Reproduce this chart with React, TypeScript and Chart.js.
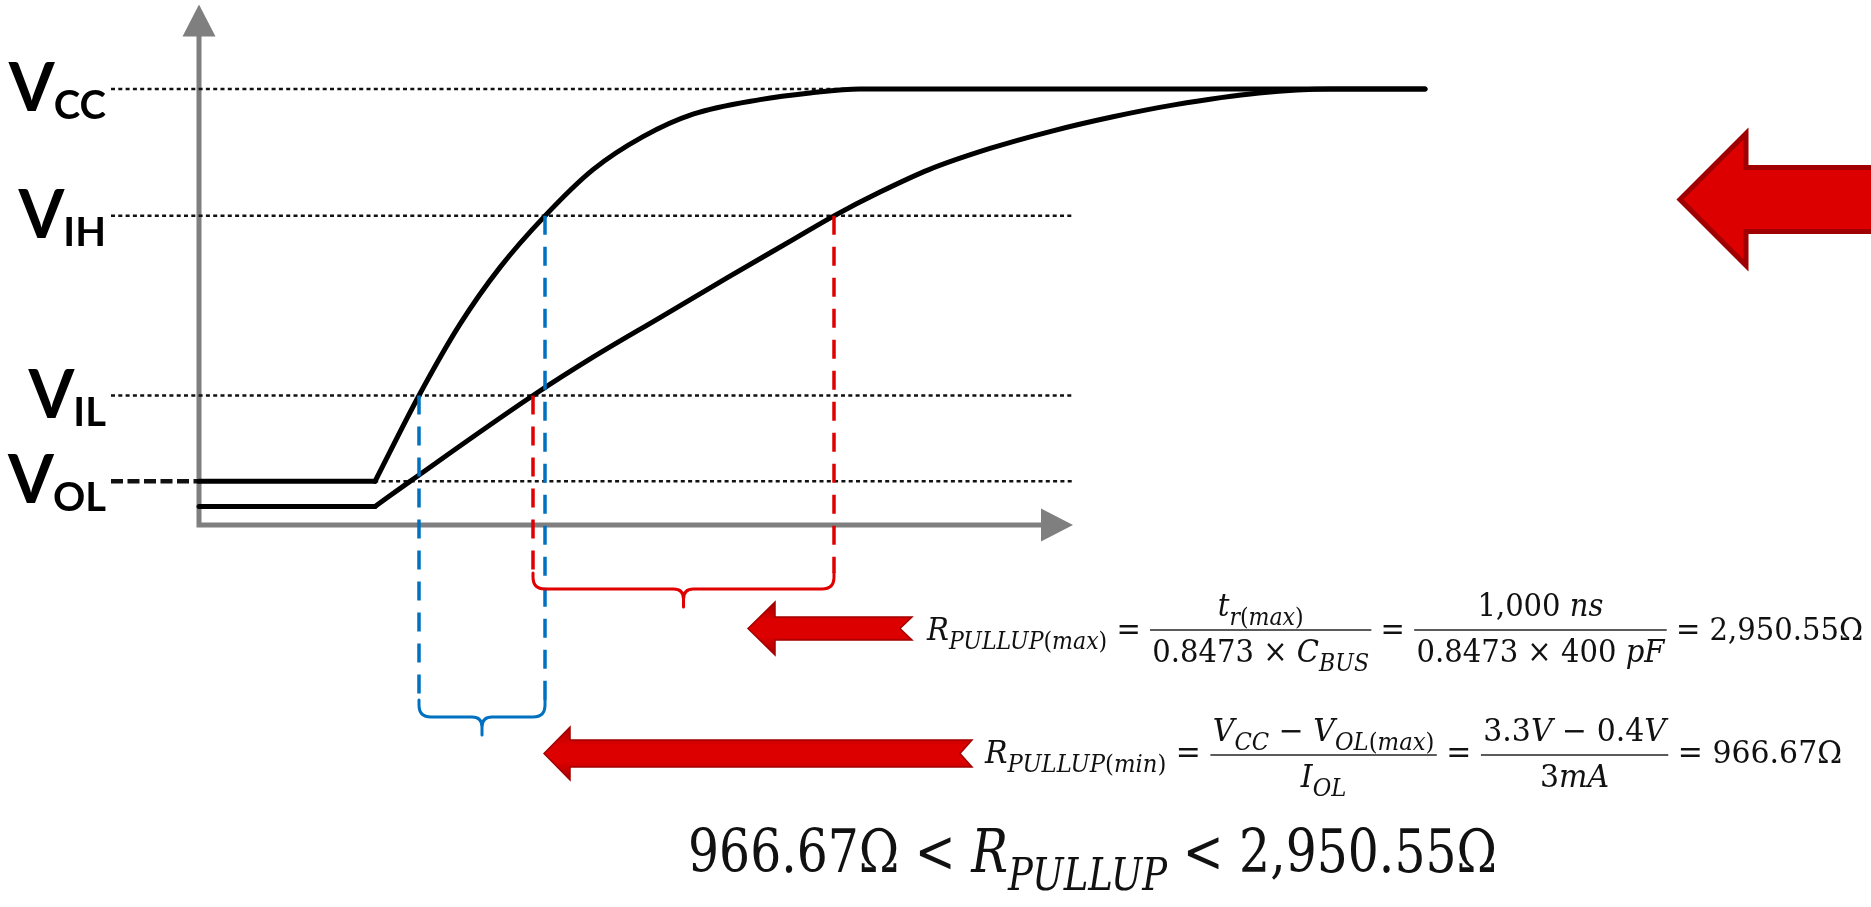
import { useEffect, useRef } from 'react';
import { Chart, registerables } from 'chart.js';

Chart.register(...registerables);

const W = 1871;
const H = 907;

// Logic thresholds shown as V + subscript on the left, and their heights (volts)
const LEVEL_SUBS = ['CC', 'IH', 'IL', 'OL'];
const LEVEL_VOLTS = [3.3, 2.34, 0.98, 0.33];
// Where each dotted guide ends on the time axis
const LEVEL_GUIDE_END = [12.26, 8.74, 8.74, 8.74];
const GUIDE_START = -0.88;

// Fast edge (strong pull-up): flat low section, then the RC rise
const FAST_LOW_T = [0, 1.76];
const FAST_LOW_V = [0.33, 0.33];
const FAST_RISE_T = [1.76, 2.2, 2.61, 3.01, 3.46, 3.94, 4.44, 4.94, 5.61, 6.11, 6.61, 12.26];
const FAST_RISE_V = [0.33, 0.98, 1.52, 1.95, 2.34, 2.69, 2.94, 3.11, 3.22, 3.27, 3.3, 3.3];

// Slow edge (weak pull-up)
const SLOW_LOW_T = [0, 1.76];
const SLOW_LOW_V = [0.14, 0.14];
const SLOW_RISE_T = [1.76, 2.11, 3.34, 3.94, 4.61, 5.28, 5.94, 6.35, 6.81, 7.3, 7.91, 8.52, 9.14, 9.75, 10.6, 11.31, 12.26];
const SLOW_RISE_V = [0.14, 0.33, 0.98, 1.27, 1.57, 1.87, 2.16, 2.34, 2.52, 2.69, 2.85, 2.98, 3.09, 3.18, 3.27, 3.3, 3.3];

// Pull-up sizing inputs
const T_RISE_MAX_NS = 1000;
const C_BUS_PF = 400;
const RC_FACTOR = 0.8473;
const VCC_V = 3.3;
const VOL_MAX_V = 0.4;
const IOL_MA = 3;

const R_MAX = (T_RISE_MAX_NS / (RC_FACTOR * C_BUS_PF)) * 1000;
const R_MIN = ((VCC_V - VOL_MAX_V) / IOL_MA) * 1000;

// Visible window of the two axes
const T_MIN = -1.99;
const T_MAX = 16.72;
const V_MIN = -2.892;
const V_MAX = 3.974;
const AXIS_T_END = 8.74;
const AXIS_V_END = 3.94;

const AXIS_COLOR = '#7f7f7f';
const BLUE = '#0070c0';
const RED = '#e00000';
const INK = '#111111';

const fmt2 = (v: number) =>
  v.toLocaleString('en-US', { minimumFractionDigits: 2, maximumFractionDigits: 2 });
const fmt0 = (v: number) => v.toLocaleString('en-US');

const pts = (ts: number[], vs: number[]) => ts.map((t, i) => ({ x: t, y: vs[i] }));

function crossing(ts: number[], vs: number[], level: number) {
  for (let i = 1; i < vs.length; i++) {
    const a = vs[i - 1] - level;
    const b = vs[i] - level;
    if (a * b <= 0 && vs[i] !== vs[i - 1]) {
      return ts[i - 1] + ((level - vs[i - 1]) * (ts[i] - ts[i - 1])) / (vs[i] - vs[i - 1]);
    }
  }
  return NaN;
}

// ---- tiny formula typesetter ----
type Run = { s: string; it?: boolean; sub?: boolean };
type Frac = { num: Run[]; den: Run[] };
type Piece = Run | Frac;

const MATH_FONT = '"DejaVu Serif"';
const SUB_SCALE = 0.76;
const SUB_DROP = 0.3;

function runFont(r: Run, size: number) {
  const sz = r.sub ? size * SUB_SCALE : size;
  return `${r.it ? 'italic ' : ''}${sz}px ${MATH_FONT}`;
}
function runsWidth(ctx: CanvasRenderingContext2D, runs: Run[], size: number) {
  let w = 0;
  for (const r of runs) {
    ctx.font = runFont(r, size);
    w += ctx.measureText(r.s).width;
  }
  return w;
}
function drawRuns(ctx: CanvasRenderingContext2D, runs: Run[], x: number, base: number, size: number) {
  for (const r of runs) {
    ctx.font = runFont(r, size);
    ctx.fillText(r.s, x, base + (r.sub ? size * SUB_DROP : 0));
    x += ctx.measureText(r.s).width;
  }
  return x;
}
function drawFormula(
  ctx: CanvasRenderingContext2D,
  pieces: Piece[],
  left: number,
  right: number,
  base: number,
  size: number,
  barY = 0,
) {
  const pad = size * 0.08;
  const widths = pieces.map((p) =>
    'num' in p
      ? Math.max(runsWidth(ctx, p.num, size), runsWidth(ctx, p.den, size)) + 2 * pad
      : runsWidth(ctx, [p], size),
  );
  const total = widths.reduce((a, b) => a + b, 0);
  ctx.save();
  ctx.translate(left, 0);
  ctx.scale((right - left) / total, 1);
  ctx.fillStyle = INK;
  ctx.textAlign = 'left';
  ctx.textBaseline = 'alphabetic';
  let x = 0;
  pieces.forEach((p, i) => {
    const w = widths[i];
    if ('num' in p) {
      const nw = runsWidth(ctx, p.num, size);
      const dw = runsWidth(ctx, p.den, size);
      drawRuns(ctx, p.num, x + (w - nw) / 2, barY - 14, size);
      drawRuns(ctx, p.den, x + (w - dw) / 2, barY + 32, size);
      ctx.fillStyle = '#333';
      ctx.fillRect(x, barY - 0.8, w, 1.6);
      ctx.fillStyle = INK;
    } else {
      drawRuns(ctx, [p], x, base, size);
    }
    x += w;
  });
  ctx.restore();
}

const EQ_MAX: Piece[] = [
  { s: 'R', it: true },
  { s: 'PULLUP', it: true, sub: true },
  { s: '(', sub: true },
  { s: 'max', it: true, sub: true },
  { s: ')', sub: true },
  { s: ' = ' },
  {
    num: [
      { s: 't', it: true },
      { s: 'r', it: true, sub: true },
      { s: '(', sub: true },
      { s: 'max', it: true, sub: true },
      { s: ')', sub: true },
    ],
    den: [{ s: `${RC_FACTOR} × ` }, { s: 'C', it: true }, { s: 'BUS', it: true, sub: true }],
  },
  { s: ' = ' },
  {
    num: [{ s: `${fmt0(T_RISE_MAX_NS)} ` }, { s: 'ns', it: true }],
    den: [{ s: `${RC_FACTOR} × ${C_BUS_PF} ` }, { s: 'pF', it: true }],
  },
  { s: ` = ${fmt2(R_MAX)}Ω` },
];

const EQ_MIN: Piece[] = [
  { s: 'R', it: true },
  { s: 'PULLUP', it: true, sub: true },
  { s: '(', sub: true },
  { s: 'min', it: true, sub: true },
  { s: ')', sub: true },
  { s: ' = ' },
  {
    num: [
      { s: 'V', it: true },
      { s: 'CC', it: true, sub: true },
      { s: ' − ' },
      { s: 'V', it: true },
      { s: 'OL', it: true, sub: true },
      { s: '(', sub: true },
      { s: 'max', it: true, sub: true },
      { s: ')', sub: true },
    ],
    den: [{ s: 'I', it: true }, { s: 'OL', it: true, sub: true }],
  },
  { s: ' = ' },
  {
    num: [{ s: `${VCC_V}` }, { s: 'V', it: true }, { s: ` − ${VOL_MAX_V}` }, { s: 'V', it: true }],
    den: [{ s: `${IOL_MA}` }, { s: 'mA', it: true }],
  },
  { s: ` = ${fmt2(R_MIN)}Ω` },
];

const EQ_RANGE: Piece[] = [
  { s: `${fmt2(R_MIN)}Ω < ` },
  { s: 'R', it: true },
  { s: 'PULLUP', it: true, sub: true },
  { s: ` < ${fmt2(R_MAX)}Ω` },
];

// Block arrow pointing left, with an optional swallow-tail notch
function blockArrow(
  ctx: CanvasRenderingContext2D,
  tipX: number,
  cy: number,
  headLen: number,
  headHalf: number,
  shaftHalf: number,
  tailX: number,
  notch: number,
  fill: string | CanvasGradient,
  stroke: string,
  lw: number,
) {
  const hx = tipX + headLen;
  ctx.beginPath();
  ctx.moveTo(tipX, cy);
  ctx.lineTo(hx, cy - headHalf);
  ctx.lineTo(hx, cy - shaftHalf);
  ctx.lineTo(tailX, cy - shaftHalf);
  ctx.lineTo(tailX - notch, cy);
  ctx.lineTo(tailX, cy + shaftHalf);
  ctx.lineTo(hx, cy + shaftHalf);
  ctx.lineTo(hx, cy + headHalf);
  ctx.closePath();
  ctx.fillStyle = fill;
  ctx.fill();
  ctx.lineJoin = 'miter';
  ctx.strokeStyle = stroke;
  ctx.lineWidth = lw;
  ctx.stroke();
}

// Curly brace under a time interval
function brace(
  ctx: CanvasRenderingContext2D,
  xl: number,
  xr: number,
  yTop: number,
  yLine: number,
  yTip: number,
  color: string,
) {
  const r = 12;
  const xm = (xl + xr) / 2;
  ctx.strokeStyle = color;
  ctx.lineWidth = 3;
  ctx.setLineDash([]);
  ctx.lineCap = 'round';
  ctx.beginPath();
  ctx.moveTo(xl, yTop);
  ctx.lineTo(xl, yLine - r);
  ctx.quadraticCurveTo(xl, yLine, xl + r, yLine);
  ctx.lineTo(xm - 10, yLine);
  ctx.quadraticCurveTo(xm, yLine, xm, yLine + 10);
  ctx.lineTo(xm, yTip);
  ctx.moveTo(xr, yTop);
  ctx.lineTo(xr, yLine - r);
  ctx.quadraticCurveTo(xr, yLine, xr - r, yLine);
  ctx.lineTo(xm + 10, yLine);
  ctx.quadraticCurveTo(xm, yLine, xm, yLine + 10);
  ctx.stroke();
}

const diagramPlugin = {
  id: 'pullupDiagram',
  beforeDatasetsDraw(chart: Chart) {
    const { ctx } = chart;
    const xs = chart.scales.x;
    const ys = chart.scales.y;
    const x0 = xs.getPixelForValue(0);
    const y0 = ys.getPixelForValue(0);
    const xEnd = xs.getPixelForValue(AXIS_T_END);
    const yEnd = ys.getPixelForValue(AXIS_V_END);
    ctx.save();
    ctx.strokeStyle = AXIS_COLOR;
    ctx.fillStyle = AXIS_COLOR;
    ctx.lineWidth = 5;
    ctx.lineJoin = 'miter';
    ctx.beginPath();
    ctx.moveTo(x0, yEnd + 28);
    ctx.lineTo(x0, y0);
    ctx.lineTo(xEnd - 28, y0);
    ctx.stroke();
    ctx.beginPath();
    ctx.moveTo(x0, yEnd);
    ctx.lineTo(x0 - 16.5, yEnd + 32);
    ctx.lineTo(x0 + 16.5, yEnd + 32);
    ctx.closePath();
    ctx.fill();
    ctx.beginPath();
    ctx.moveTo(xEnd, y0);
    ctx.lineTo(xEnd - 32, y0 - 16.5);
    ctx.lineTo(xEnd - 32, y0 + 16.5);
    ctx.closePath();
    ctx.fill();

    // Level names
    ctx.fillStyle = '#000';
    ctx.textAlign = 'left';
    ctx.textBaseline = 'alphabetic';
    LEVEL_SUBS.forEach((sub, i) => {
      const yy = ys.getPixelForValue(LEVEL_VOLTS[i]);
      ctx.font = 'bold 40px Lato';
      const sw = ctx.measureText(sub).width;
      ctx.font = 'bold 66px Lato';
      const vw = ctx.measureText('V').width;
      const right = 106;
      ctx.fillText('V', right - sw - vw + 1, yy + 22);
      ctx.font = 'bold 40px Lato';
      ctx.fillText(sub, right - sw, yy + 30);
    });
    ctx.restore();
  },
  afterDatasetsDraw(chart: Chart) {
    const { ctx } = chart;
    const xs = chart.scales.x;
    const ys = chart.scales.y;
    const vih = LEVEL_VOLTS[1];
    const vil = LEVEL_VOLTS[2];

    const fastIL = xs.getPixelForValue(crossing(FAST_RISE_T, FAST_RISE_V, vil));
    const fastIH = xs.getPixelForValue(crossing(FAST_RISE_T, FAST_RISE_V, vih));
    const slowIL = xs.getPixelForValue(crossing(SLOW_RISE_T, SLOW_RISE_V, vil));
    const slowIH = xs.getPixelForValue(crossing(SLOW_RISE_T, SLOW_RISE_V, vih));
    const yIL = ys.getPixelForValue(vil);
    const yIH = ys.getPixelForValue(vih);

    const RED_TOP = 573;
    const BLUE_TOP = 700;

    ctx.save();
    ctx.lineWidth = 3.5;
    ctx.lineCap = 'butt';
    ctx.setLineDash([19, 12]);
    const vline = (x: number, y1: number, y2: number, c: string) => {
      ctx.strokeStyle = c;
      ctx.beginPath();
      ctx.moveTo(x, y1);
      ctx.lineTo(x, y2);
      ctx.stroke();
    };
    vline(slowIL, yIL, RED_TOP, RED);
    vline(slowIH, yIH, RED_TOP, RED);
    vline(fastIL, yIL, BLUE_TOP, BLUE);
    vline(fastIH, yIH, BLUE_TOP, BLUE);

    brace(ctx, slowIL, slowIH, RED_TOP, 589, 607, RED);
    brace(ctx, fastIL, fastIH, BLUE_TOP, 717, 735, BLUE);
    ctx.setLineDash([]);

    // Arrows pointing at the two intervals and the big one on the right
    const g1 = ctx.createLinearGradient(0, 602, 0, 655);
    g1.addColorStop(0, '#a80000');
    g1.addColorStop(0.35, '#dd0000');
    g1.addColorStop(0.65, '#dd0000');
    g1.addColorStop(1, '#a80000');
    blockArrow(ctx, 748, 628.5, 27, 26.5, 11.5, 912, 12, g1, '#a30000', 1.5);
    const g2 = ctx.createLinearGradient(0, 727, 0, 780);
    g2.addColorStop(0, '#a80000');
    g2.addColorStop(0.35, '#dd0000');
    g2.addColorStop(0.65, '#dd0000');
    g2.addColorStop(1, '#a80000');
    blockArrow(ctx, 544, 753.5, 26, 26.5, 13.5, 972, 12, g2, '#a30000', 1.5);
    blockArrow(ctx, 1680, 199.5, 66, 66, 32, 1900, 0, '#dd0000', '#a00000', 5);

    // Formulas
    drawFormula(ctx, EQ_MAX, 927, 1863, 640, 31, 630);
    drawFormula(ctx, EQ_MIN, 985, 1842, 763, 31, 755);
    drawFormula(ctx, EQ_RANGE, 688, 1497, 872, 60);
    ctx.restore();
  },
};

export default function App() {
  const ref = useRef<HTMLCanvasElement>(null);

  useEffect(() => {
    const canvas = ref.current;
    if (!canvas) return;

    const curve = {
      borderColor: '#000',
      borderWidth: 5,
      pointRadius: 0,
      fill: false,
      borderCapStyle: 'round' as const,
      borderJoinStyle: 'round' as const,
      order: 0,
    };
    const guide = (v: number, t0: number, t1: number) => ({
      data: [
        { x: t0, y: v },
        { x: t1, y: v },
      ],
      borderColor: INK,
      borderWidth: 2.5,
      borderDash: [4, 3.3],
      pointRadius: 0,
      fill: false,
      order: 1,
    });

    const chart = new Chart(canvas, {
      type: 'line',
      data: {
        datasets: [
          { data: pts(FAST_LOW_T, FAST_LOW_V), ...curve, tension: 0 },
          { data: pts(FAST_RISE_T, FAST_RISE_V), ...curve, cubicInterpolationMode: 'monotone' },
          { data: pts(SLOW_LOW_T, SLOW_LOW_V), ...curve, tension: 0 },
          { data: pts(SLOW_RISE_T, SLOW_RISE_V), ...curve, cubicInterpolationMode: 'monotone' },
          ...LEVEL_VOLTS.map((v, i) =>
            guide(v, i === LEVEL_VOLTS.length - 1 ? 0 : GUIDE_START, LEVEL_GUIDE_END[i]),
          ),
          {
            data: [
              { x: GUIDE_START, y: LEVEL_VOLTS[3] },
              { x: 0, y: LEVEL_VOLTS[3] },
            ],
            borderColor: INK,
            borderWidth: 4.5,
            borderDash: [12, 4.5],
            pointRadius: 0,
            fill: false,
            order: 1,
          },
        ],
      },
      options: {
        animation: false,
        responsive: false,
        devicePixelRatio: 1,
        layout: { padding: 0 },
        events: [],
        plugins: { legend: { display: false }, tooltip: { enabled: false } },
        scales: {
          x: { type: 'linear', min: T_MIN, max: T_MAX, display: false },
          y: { type: 'linear', min: V_MIN, max: V_MAX, display: false },
        },
      },
      plugins: [diagramPlugin],
    });

    return () => chart.destroy();
  }, []);

  return (
    <div style={{ position: 'fixed', left: 0, top: 0, width: W, height: H, background: '#fff' }}>
      <canvas ref={ref} width={W} height={H} style={{ display: 'block', width: W, height: H }} />
    </div>
  );
}
